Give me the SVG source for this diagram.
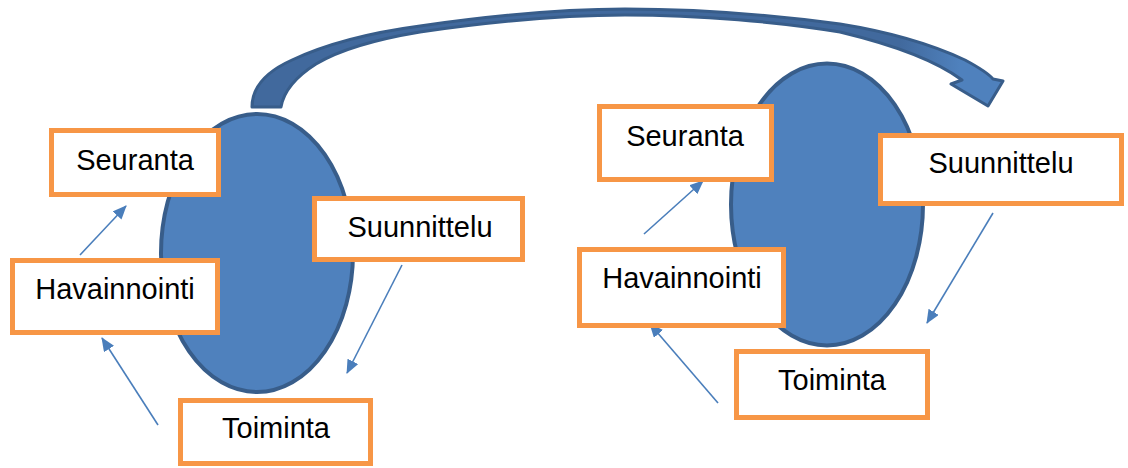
<svg xmlns="http://www.w3.org/2000/svg" width="1128" height="468" viewBox="0 0 1128 468">
  <style>
    .oval { fill: #4F81BD; stroke: #385D8A; stroke-width: 4; }
    .box { fill: #FFFFFF; stroke: #F79646; stroke-width: 5; }
    .lbl { font-family: "Liberation Sans", Arial, sans-serif; font-size: 29px; fill: #000000; text-anchor: middle; }
    .conn { stroke: #4A7EBB; stroke-width: 1.6; fill: none; marker-end: url(#ah); }
    .big { stroke: #385D8A; stroke-width: 3; stroke-linejoin: round; fill: url(#bigfill); }
  </style>
  <defs>
    <marker id="ah" viewBox="0 0 14 12" refX="13" refY="6" markerWidth="14" markerHeight="12" markerUnits="userSpaceOnUse" orient="auto">
      <path d="M0,0 L14,6 L0,12 Z" fill="#4A7EBB"/>
    </marker>
    <linearGradient id="bigfill" gradientUnits="userSpaceOnUse" x1="250" y1="0" x2="1005" y2="0">
      <stop offset="0" stop-color="#41699D"/>
      <stop offset="0.86" stop-color="#41699D"/>
      <stop offset="0.94" stop-color="#4F81BD"/>
      <stop offset="1" stop-color="#4F81BD"/>
    </linearGradient>
  </defs>
  <rect width="1128" height="468" fill="#FFFFFF"/>

  <g id="oval-left"><ellipse class="oval" cx="257" cy="253" rx="96" ry="139"/></g>
  <g id="oval-right"><ellipse class="oval" cx="827" cy="204.5" rx="96" ry="141"/></g>

  <g id="curved-arrow">
    <path class="big" d="M252,107 C252,90 263,73 292,60 C322,46 360,34 420,26 C490,16 560,9 625,9 C700,9 780,16 840,24 C890,32 935,46 965,60 C978,67 988,73 993,79 L1003,81 L988,106 L951,84 L962,80 C935,60 890,44 840,32 C780,22 700,15 625,15 C560,15 490,22 420,32 C372,40 336,52 316,64 C297,76 284,90 281,107 Z"/>
  </g>

  <g id="connectors">
    <line class="conn" x1="80" y1="255" x2="126" y2="206"/>
    <line class="conn" x1="158" y1="425" x2="102" y2="338"/>
    <line class="conn" x1="402" y1="265" x2="347" y2="373"/>
    <line class="conn" x1="644" y1="234" x2="703" y2="181"/>
    <line class="conn" x1="718" y1="403" x2="650" y2="324"/>
    <line class="conn" x1="993" y1="213" x2="927" y2="323"/>
  </g>

  <g id="seuranta-left"><rect class="box" x="51.5" y="130.5" width="167" height="64"/><text class="lbl" x="135" y="170">Seuranta</text></g>
  <g id="havainnointi-left"><rect class="box" x="12.5" y="260.5" width="205" height="72"/><text class="lbl" x="115" y="299">Havainnointi</text></g>
  <g id="suunnittelu-left"><rect class="box" x="314.5" y="198.5" width="208" height="61"/><text class="lbl" x="420" y="237">Suunnittelu</text></g>
  <g id="toiminta-left"><rect class="box" x="180.5" y="400.5" width="190" height="63"/><text class="lbl" x="276" y="438">Toiminta</text></g>

  <g id="seuranta-right"><rect class="box" x="599.5" y="106.5" width="172" height="73"/><text class="lbl" x="685" y="146">Seuranta</text></g>
  <g id="suunnittelu-right"><rect class="box" x="880.5" y="135.5" width="241" height="68"/><text class="lbl" x="1001" y="173">Suunnittelu</text></g>
  <g id="havainnointi-right"><rect class="box" x="579.5" y="249.5" width="204" height="76"/><text class="lbl" x="682" y="288">Havainnointi</text></g>
  <g id="toiminta-right"><rect class="box" x="736.5" y="351.5" width="191" height="66"/><text class="lbl" x="832" y="390">Toiminta</text></g>
</svg>
